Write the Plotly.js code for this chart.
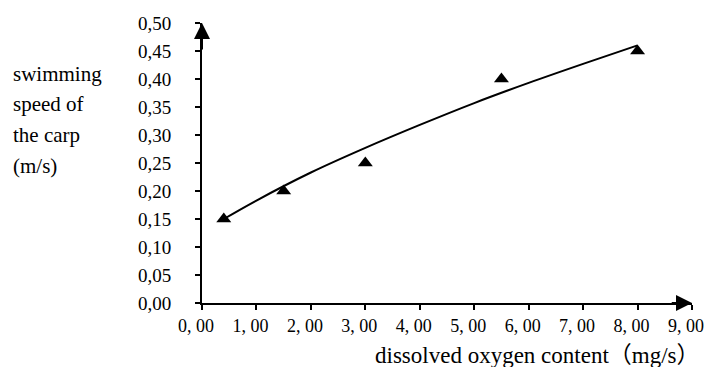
<!DOCTYPE html>
<html>
<head>
<meta charset="utf-8">
<script src="https://cdn.plot.ly/plotly-3.0.1.min.js"></script>
<style>html,body{margin:0;padding:0;background:#fff;}#chart{width:707px;height:367px;}</style>
</head>
<body>
<div id="chart"></div>
<script>
// Measured data (dissolved oxygen content mg/s, swimming speed m/s)
var oxygen = [0.4, 1.5, 3.0, 5.5, 8.0];
var speed = [0.15, 0.20, 0.25, 0.40, 0.45];
// Trend curve
var trendX = [0.4, 1, 2, 3, 4, 5, 6, 7, 8];
var trendY = [0.150, 0.183, 0.233, 0.277, 0.318, 0.357, 0.393, 0.427, 0.460];
// Tick labels
var xTickVals = [0, 1, 2, 3, 4, 5, 6, 7, 8, 9];
var xTickText = ["0, 00", "1, 00", "2, 00", "3, 00", "4, 00", "5, 00", "6, 00", "7, 00", "8, 00", "9, 00"];
var yTickVals = [0, 0.05, 0.10, 0.15, 0.20, 0.25, 0.30, 0.35, 0.40, 0.45, 0.50];
var yTickText = ["0,00", "0,05", "0,10", "0,15", "0,20", "0,25", "0,30", "0,35", "0,40", "0,45", "0,50"];
var yTitleLines = ["swimming", "speed of", "the carp", "(m/s)"];
var xTitle = "dissolved oxygen content（mg/s）";

var serif = "Liberation Serif, Times New Roman, Noto Sans CJK SC, serif";

var traces = [
  {x: trendX, y: trendY, mode: "lines", line: {color: "#000", width: 2, shape: "spline"}, hoverinfo: "skip", showlegend: false},
  {x: oxygen, y: speed, mode: "markers", marker: {symbol: "triangle-up", size: 13, color: "#000"}, showlegend: false}
];

var annotations = [];
var lineY = [74, 104, 135, 166];
for (var i = 0; i < yTitleLines.length; i++) {
  annotations.push({
    xref: "paper", yref: "paper",
    x: (11 - 202) / 490, y: (303 - lineY[i]) / 280,
    xanchor: "left", yanchor: "middle",
    text: yTitleLines[i], showarrow: false,
    font: {family: serif, size: 21, color: "#000"}
  });
}
annotations.push({
  xref: "paper", yref: "paper",
  x: (537 - 202) / 490, y: (303 - 355) / 280,
  xanchor: "center", yanchor: "middle",
  text: xTitle, showarrow: false,
  font: {family: serif, size: 23, color: "#000"}
});
// axis arrowheads
annotations.push({
  xref: "x", yref: "y", axref: "x", ayref: "y",
  x: 9, y: 0, ax: 8.6, ay: 0,
  showarrow: true, arrowhead: 2, arrowsize: 1.6, arrowwidth: 2, arrowcolor: "#000", text: ""
});
annotations.push({
  xref: "x", yref: "y", axref: "x", ayref: "y",
  x: 0, y: 0.5, ax: 0, ay: 0.45,
  showarrow: true, arrowhead: 2, arrowsize: 1.6, arrowwidth: 2, arrowcolor: "#000", text: ""
});

var layout = {
  width: 707, height: 367,
  margin: {l: 202, r: 15, t: 23, b: 64},
  paper_bgcolor: "#fff", plot_bgcolor: "#fff",
  showlegend: false,
  xaxis: {
    range: [0, 9], showgrid: false, zeroline: false,
    showline: true, linecolor: "#000", linewidth: 2,
    ticks: "outside", ticklen: 5, tickwidth: 2, tickcolor: "#000",
    tickvals: xTickVals, ticktext: xTickText,
    ticklabelshift: -6, ticklabeloverflow: "allow",
    tickfont: {family: serif, size: 18, color: "#000"}
  },
  yaxis: {
    range: [0, 0.5], showgrid: false, zeroline: false,
    showline: true, linecolor: "#000", linewidth: 2,
    ticks: "outside", ticklen: 5, tickwidth: 2, tickcolor: "#000",
    tickvals: yTickVals, ticktext: yTickText,
    ticklabelstandoff: 20,
    tickfont: {family: serif, size: 19, color: "#000"}
  },
  annotations: annotations
};

Plotly.newPlot("chart", traces, layout, {displayModeBar: false, staticPlot: true});
</script>
</body>
</html>
